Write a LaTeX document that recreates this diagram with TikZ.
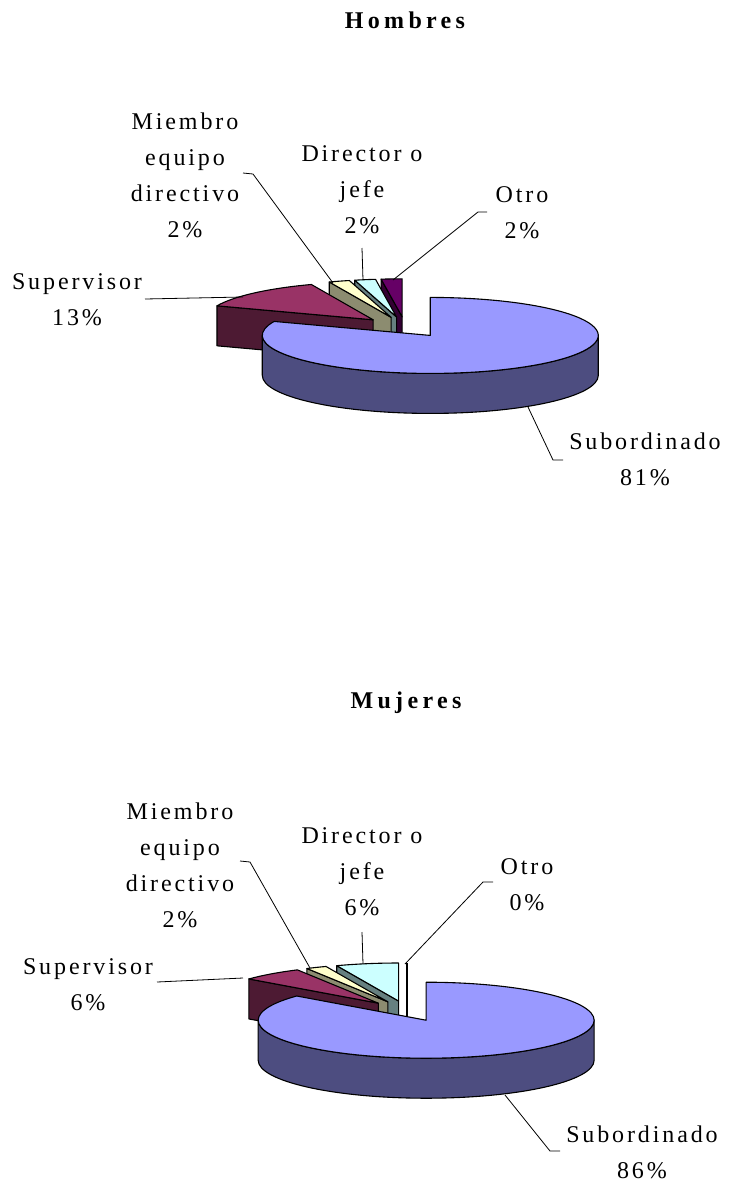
\documentclass[tikz,border=0pt]{standalone}
\usepackage{fontspec}
\setmainfont{Liberation Serif}[LetterSpace=12]
\newfontfamily\titlefont{Liberation Serif}[LetterSpace=18]

% slice palette: top face / shaded side
\definecolor{subT}{HTML}{9999FF}\definecolor{subS}{HTML}{4D4D80}
\definecolor{supT}{HTML}{993366}\definecolor{supS}{HTML}{4D1A33}
\definecolor{miemT}{HTML}{FFFFCC}\definecolor{miemS}{HTML}{8C8C70}
\definecolor{dirT}{HTML}{CCFFFF}\definecolor{dirS}{HTML}{668080}
\definecolor{otroT}{HTML}{660066}\definecolor{otroS}{HTML}{330033}

% \pieslice{cx}{cy}{start}{end}{top colour}{side colour}
% draws one exploded slice of a tilted pie (angles counter-clockwise)
\newcommand\pieslice[6]{%
  \pgfmathsetmacro\slB{(#3+#4)/2}%
  \pgfmathsetmacro\slX{#1+\pd*cos(\slB)}%
  \pgfmathsetmacro\slY{#2+\pd*\pry/\prx*sin(\slB)}%
  \pgfmathtruncatemacro\slEnd{cos(#4)<-0.001}%
  \pgfmathtruncatemacro\slBeg{cos(#3)>0.001}%
  \pgfmathsetmacro\slWs{max(#3,180)}%
  \pgfmathsetmacro\slWe{min(#4,360)}%
  \pgfmathtruncatemacro\slWall{\slWe>\slWs}%
  \ifnum\slEnd=1
    \filldraw[edge, fill=#6] (\slX,\slY) -- ++(#4:\prx pt and \pry pt)
      -- ++(0,-\ph) -- (\slX,\slY-\ph) -- cycle;
  \fi
  \ifnum\slBeg=1
    \filldraw[edge, fill=#6] (\slX,\slY) -- ++(#3:\prx pt and \pry pt)
      -- ++(0,-\ph) -- (\slX,\slY-\ph) -- cycle;
  \fi
  \ifnum\slWall=1
    \filldraw[edge, fill=#6] (\slX,\slY) ++(\slWs:\prx pt and \pry pt)
      arc[start angle=\slWs, end angle=\slWe, x radius=\prx pt, y radius=\pry pt]
      -- ++(0,-\ph)
      arc[start angle=\slWe, end angle=\slWs, x radius=\prx pt, y radius=\pry pt]
      -- cycle;
  \fi
  \filldraw[edge, fill=#5] (\slX,\slY) -- ++(#3:\prx pt and \pry pt)
    arc[start angle=#3, end angle=#4, x radius=\prx pt, y radius=\pry pt] -- cycle;
}

\begin{document}
\begin{tikzpicture}[x=1pt, y=1pt,
  % base anchor of a multi-line label sits on its last line
  lbl/.style={align=center, anchor=base, inner sep=0pt,
              font=\fontsize{24}{36}\selectfont},
  ttl/.style={anchor=base, inner sep=0pt,
              font=\titlefont\bfseries\fontsize{24}{36}\selectfont},
  leader/.style={draw=black, line width=0.8pt},
  edge/.style={draw=black, line width=1.1pt, line join=round}]
\useasboundingbox (0,0) rectangle (730,-1184);
\def\prx{168}\def\pry{38}\def\ph{40}\def\pd{45}

% ---------- Hombres ----------
\node[ttl] (tH) at (405,-28) {Hombres};
\pieslice{405}{-327}{90}{97.2}{otroT}{otroS}
\pieslice{405}{-327}{97.2}{104.4}{dirT}{dirS}
\pieslice{405}{-327}{104.4}{111.6}{miemT}{miemS}
\pieslice{405}{-327}{111.6}{158.4}{supT}{supS}
\pieslice{405}{-327}{158.4}{450}{subT}{subS}

\node[lbl] (hMiem) at (185,-237) {Miembro\\equipo\\directivo\\2\%};
\node[lbl] (hSup)  at (77,-325)  {Supervisor\\13\%};
\node[lbl] (hDir)  at (362,-233) {Director o\\jefe\\2\%};
\node[lbl] (hOtro) at (522,-238) {Otro\\2\%};
\node[lbl] (hSub)  at (645,-485) {Subordinado\\81\%};

\coordinate (hMiemA) at (243,-173); \coordinate (hMiemK) at (253,-174);
\coordinate (hMiemB) at (333,-283);
\coordinate (hSupA) at (145,-299);  \coordinate (hSupB) at (243,-297);
\coordinate (hDirA) at (362,-248);  \coordinate (hDirB) at (363,-280);
\coordinate (hOtroA) at (487,-212); \coordinate (hOtroK) at (478,-212);
\coordinate (hOtroB) at (393,-280);
\coordinate (hSubA) at (563,-460);  \coordinate (hSubK) at (553,-460);
\coordinate (hSubB) at (528,-407);
\draw[leader] (hMiemA) -- (hMiemK) -- (hMiemB);
\draw[leader] (hSupA) -- (hSupB);
\draw[leader] (hDirA) -- (hDirB);
\draw[leader] (hOtroA) -- (hOtroK) -- (hOtroB);
\draw[leader] (hSubA) -- (hSubK) -- (hSubB);

% ---------- Mujeres ----------
\node[ttl] (tM) at (406,-708) {Mujeres};
% zero-width slice shows only as its radial edge
\coordinate (mOtroTop) at (407,-963);
\coordinate (mOtroBot) at (407,-1041);
\draw[line width=1.8pt] (mOtroTop) -- (mOtroBot);
\pieslice{407}{-1011}{90}{111.6}{dirT}{dirS}
\pieslice{407}{-1011}{111.6}{118.8}{miemT}{miemS}
\pieslice{407}{-1011}{118.8}{140.4}{supT}{supS}
\pieslice{407}{-1011}{140.4}{450}{subT}{subS}

\node[lbl] (mMiem) at (180,-927) {Miembro\\equipo\\directivo\\2\%};
\node[lbl] (mSup)  at (88,-1010)  {Supervisor\\6\%};
\node[lbl] (mDir)  at (362,-915) {Director o\\jefe\\6\%};
\node[lbl] (mOtro) at (527,-910) {Otro\\0\%};
\node[lbl] (mSub)  at (642,-1178) {Subordinado\\86\%};

\coordinate (mMiemA) at (240,-861); \coordinate (mMiemK) at (250,-862);
\coordinate (mMiemB) at (310,-968);
\coordinate (mSupA) at (157,-982);  \coordinate (mSupB) at (243,-978);
\coordinate (mDirA) at (362,-932);  \coordinate (mDirB) at (363,-964);
\coordinate (mOtroA) at (493,-882); \coordinate (mOtroK) at (483,-882);
\coordinate (mOtroB) at (405,-964);
\coordinate (mSubA) at (560,-1151); \coordinate (mSubK) at (550,-1151);
\coordinate (mSubB) at (505,-1095);
\draw[leader] (mMiemA) -- (mMiemK) -- (mMiemB);
\draw[leader] (mSupA) -- (mSupB);
\draw[leader] (mDirA) -- (mDirB);
\draw[leader] (mOtroA) -- (mOtroK) -- (mOtroB);
\draw[leader] (mSubA) -- (mSubK) -- (mSubB);
\end{tikzpicture}
\end{document}
